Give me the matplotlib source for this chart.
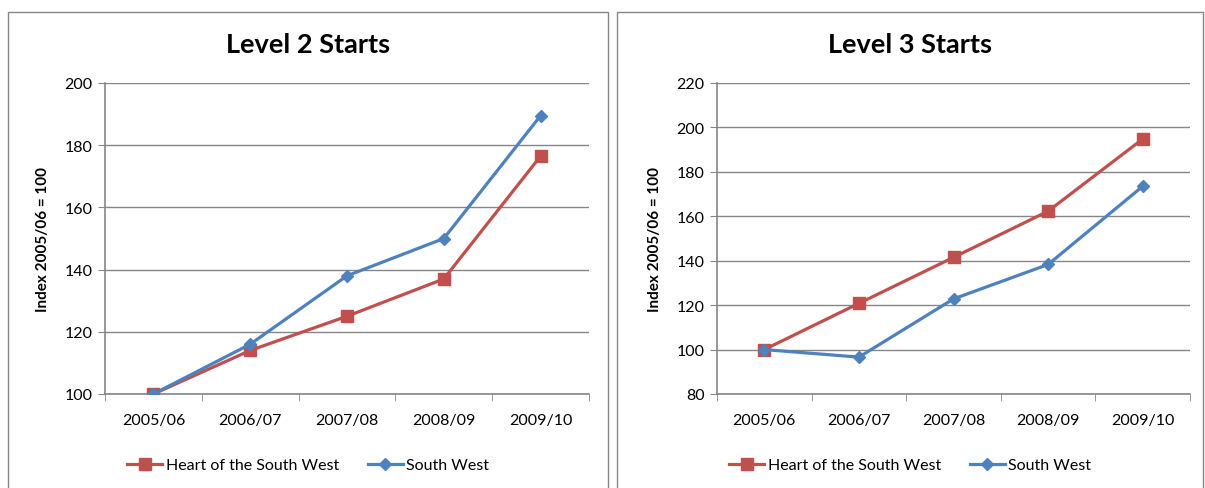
import matplotlib
matplotlib.use("Agg")
import matplotlib.pyplot as plt
from matplotlib.patches import Rectangle

plt.rcParams['font.family'] = ['Lato', 'DejaVu Sans']

years = ['2005/06', '2006/07', '2007/08', '2008/09', '2009/10']

# Level 2 starts (index 2005/06 = 100)
l2_heart = [100, 114, 125, 137, 176.5]
l2_sw = [100, 116, 138, 150, 189.5]

# Level 3 starts (index 2005/06 = 100)
l3_heart = [100, 120.8, 141.5, 162.3, 194.8]
l3_sw = [100, 96.6, 122.8, 138.3, 173.5]

RED = '#C0504D'
BLUE = '#4F81BD'
GREY = '#868686'

W, H = 1205, 489
fig = plt.figure(figsize=(W / 100, H / 100), dpi=100)


def px(x0, y0, x1, y1):
    # pixel box (top-left origin) -> figure fraction
    return [x0 / W, 1 - y1 / H, (x1 - x0) / W, (y1 - y0) / H]


def panel(box, frame, title, heart, sw, ylim):
    # grey border round the whole chart
    fx0, fx1 = frame
    fig.add_artist(Rectangle((fx0 / W, -0.05), (fx1 - fx0) / W, 1.05 - 13 / H,
                             transform=fig.transFigure, fill=False, ec=GREY, lw=1))
    cx = (fx0 + fx1) / 2 / W

    ax = fig.add_axes(px(*box))
    x = list(range(len(years)))
    ax.plot(x, heart, color=RED, lw=2.3, marker='s', ms=8.5, label='Heart of the South West', zorder=3)
    ax.plot(x, sw, color=BLUE, lw=2.3, marker='D', ms=6, label='South West', zorder=4)
    ax.set_xlim(-0.5, len(years) - 0.5)
    ax.set_ylim(*ylim)
    ax.set_yticks(range(ylim[0], ylim[1] + 1, 20))
    ax.set_xticks(x)
    ax.set_xticklabels(years)
    ax.set_xticks([i - 0.5 for i in range(len(years) + 1)], minor=True)
    ax.tick_params(axis='x', which='major', length=0, pad=14, labelsize=11.5)
    ax.tick_params(axis='x', which='minor', length=5, color=GREY, direction='out')
    ax.tick_params(axis='y', length=5, color=GREY, labelsize=11.5, pad=4)
    ax.grid(axis='y', color=GREY, lw=1)
    ax.set_axisbelow(True)
    for s in ['top', 'right']:
        ax.spines[s].set_visible(False)
    for s in ['left', 'bottom']:
        ax.spines[s].set_color(GREY)
        ax.spines[s].set_linewidth(1.2)
    ax.set_ylabel('Index 2005/06 = 100', fontsize=11, fontweight='bold', labelpad=10)
    fig.text(cx, 1 - 45 / H, title, fontsize=19.5, fontweight='bold', ha='center', va='center')
    ax.legend(loc='center', bbox_to_anchor=(cx, 1 - 466 / H), bbox_transform=fig.transFigure,
              ncol=2, frameon=False, fontsize=11.5, handlelength=2.2, handletextpad=0.2,
              columnspacing=1.8)
    return ax


panel((105, 84, 589, 395), (8, 608), 'Level 2 Starts', l2_heart, l2_sw, (100, 200))
panel((717, 84, 1190, 395), (617, 1203), 'Level 3 Starts', l3_heart, l3_sw, (80, 220))

fig.savefig('out.png', dpi=100)
